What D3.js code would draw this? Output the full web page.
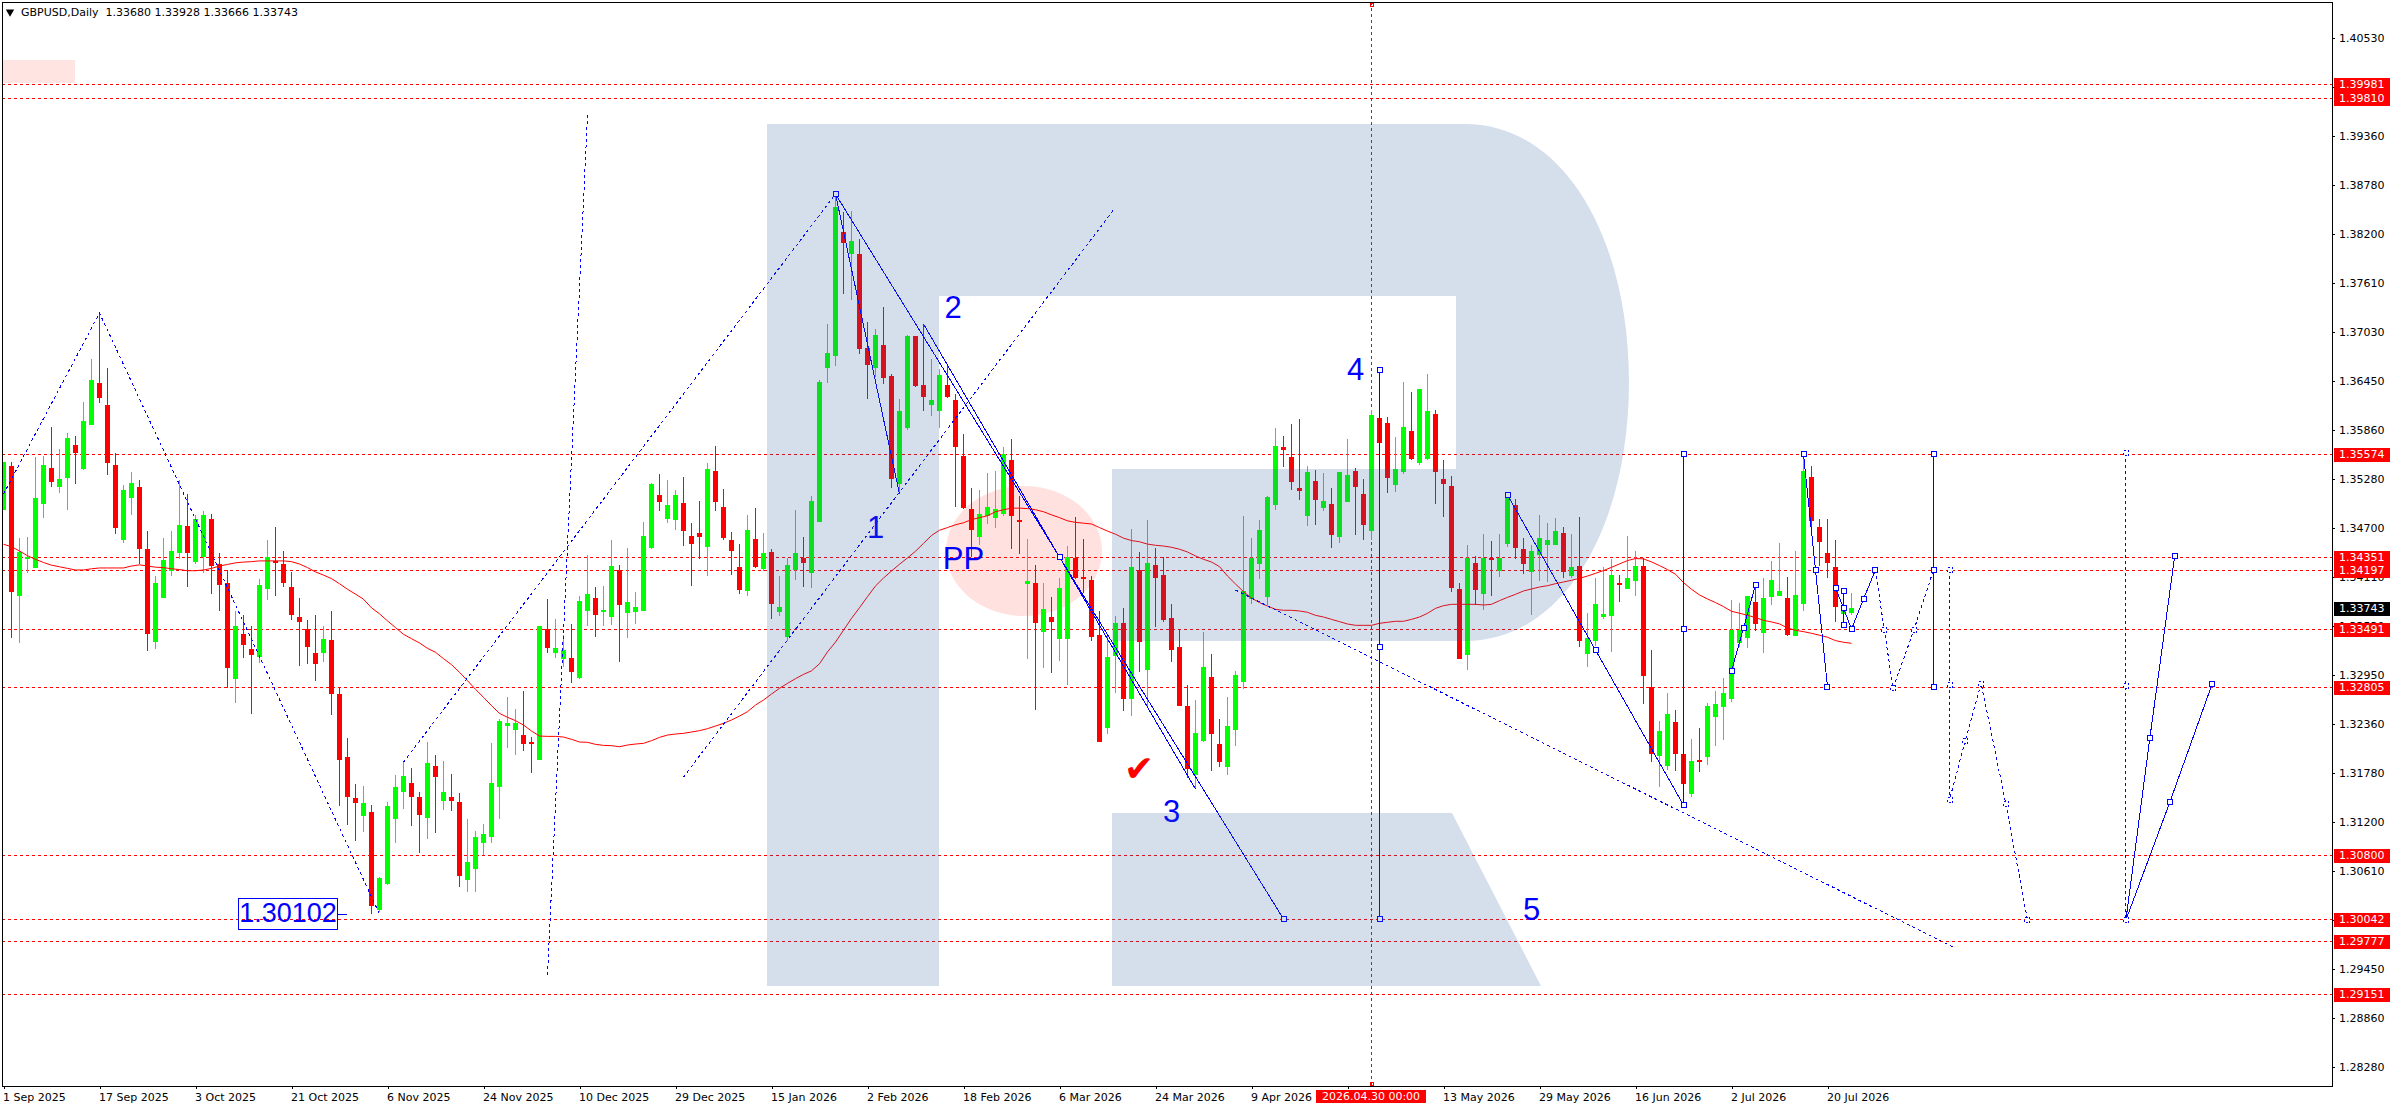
<!DOCTYPE html>
<html>
<head>
<meta charset="utf-8">
<title>GBPUSD,Daily</title>
<script src="https://cdn.jsdelivr.net/npm/d3@7"></script>
<style>
html, body { margin: 0; padding: 0; background: #fff; }
svg { display: block; }
text { font-family: "DejaVu Sans", sans-serif; font-size: 11px; }
</style>
</head>
<body>
<div id="chart"></div>
<script>
var width = 2396;
var height = 1110;

// daily candles
var opens = [1.34912,1.35438,1.33887,1.34333,1.34216,1.34977,1.35414,1.35189,1.35297,1.35687,
	1.354,1.35927,1.36425,1.36162,1.35452,1.34559,1.35057,1.35189,1.34451,1.33337,
	1.33859,1.34188,1.34395,1.34724,1.34286,1.34352,1.34799,1.34263,1.34037,1.32895,
	1.3344,1.33252,1.33158,1.33967,1.34301,1.34263,1.3399,1.33633,1.33497,1.33205,
	1.33205,1.33361,1.32717,1.31969,1.31481,1.31264,1.31316,1.30146,1.30456,1.31232,
	1.31553,1.3166,1.31494,1.31244,1.31863,1.31446,1.31494,1.31434,1.30505,1.30636,
	1.30946,1.31017,1.31613,1.32339,1.32292,1.32232,1.32149,1.31934,1.33495,1.33209,
	1.33137,1.33149,1.32911,1.33709,1.33864,1.33697,1.33638,1.34197,1.33685,1.33697,
	1.33709,1.34459,1.35091,1.34805,1.34793,1.34995,1.34602,1.34638,1.34471,1.35376,
	1.34948,1.34555,1.34233,1.33947,1.34567,1.34209,1.34412,1.33697,1.33399,1.34197,
	1.34336,1.34162,1.34773,1.36597,1.36742,1.38223,1.37955,1.3796,1.36841,1.36606,
	1.36879,1.36512,1.35224,1.35892,1.36987,1.36404,1.36164,1.36084,1.36404,1.36225,
	1.35558,1.34919,1.34594,1.34843,1.34811,1.34858,1.35511,1.34787,1.34026,1.3404,
	1.33462,1.33636,1.33377,1.33377,1.34345,1.34115,1.34073,1.33419,1.3232,1.3317,
	1.3356,1.32658,1.342,1.33011,1.34251,1.34134,1.33621,1.33278,1.32573,1.31756,
	1.3216,1.32923,1.32125,1.31851,1.32291,1.32863,1.33852,1.34268,1.33875,1.34971,
	1.35662,1.35543,1.35174,1.3484,1.35257,1.34935,1.34983,1.3459,1.35007,1.35376,
	1.35102,1.34661,1.36007,1.35948,1.35209,1.35364,1.35852,1.35471,1.35519,1.36055,
	1.35281,1.35197,1.33971,1.33185,1.3428,1.33911,1.34344,1.34185,1.34507,1.34971,
	1.34447,1.34173,1.34376,1.34495,1.34495,1.34638,1.34125,1.34245,1.33196,1.33351,
	1.33638,1.3365,1.34043,1.33971,1.34067,1.34245,1.32804,1.31982,1.31863,1.32387,
	1.32006,1.3153,1.31935,1.31971,1.32447,1.32566,1.32661,1.33328,1.33388,1.33817,
	1.33447,1.33876,1.33888,1.33864,1.33412,1.33793,1.35305,1.3471,1.344,1.34233,1.33674,1.3368];

var highs = [1.35485,1.35485,1.34583,1.34592,1.35541,1.35555,1.35903,1.3564,1.35833,1.3579,
	1.36199,1.36707,1.37247,1.36604,1.35588,1.35203,1.35367,1.35273,1.34662,1.34131,
	1.34573,1.34662,1.35273,1.35104,1.3485,1.34902,1.34869,1.34395,1.34197,1.33713,
	1.33666,1.33525,1.34084,1.3455,1.34714,1.34427,1.34169,1.33868,1.33596,1.33657,
	1.33534,1.33704,1.32806,1.32195,1.31645,1.31622,1.31396,1.30541,1.31434,1.31753,
	1.31915,1.31835,1.31553,1.32149,1.31994,1.31922,1.31768,1.31541,1.31232,1.31089,
	1.31172,1.32137,1.32423,1.32685,1.32542,1.32756,1.32208,1.3353,1.33852,1.33614,
	1.33423,1.33554,1.33888,1.34376,1.33995,1.34007,1.34555,1.34257,1.34459,1.33935,
	1.34769,1.35233,1.35341,1.35269,1.3515,1.35305,1.34757,1.35019,1.35472,1.35674,
	1.35162,1.3465,1.34507,1.34852,1.34936,1.34638,1.34447,1.34126,1.3434,1.34912,
	1.34594,1.35078,1.36456,1.37128,1.38674,1.38462,1.38472,1.38138,1.37151,1.37067,
	1.3733,1.36535,1.3623,1.36996,1.36987,1.37123,1.36714,1.36592,1.3662,1.36286,
	1.35821,1.35168,1.35154,1.35351,1.3537,1.35666,1.35751,1.35078,1.34561,1.34251,
	1.3404,1.33871,1.34096,1.34477,1.34829,1.34571,1.3412,1.33706,1.33419,1.33645,
	1.33748,1.34679,1.34416,1.34792,1.34453,1.34355,1.33786,1.33485,1.32822,1.32649,
	1.33458,1.33196,1.32422,1.32684,1.32994,1.3484,1.34578,1.34792,1.35078,1.35888,
	1.35793,1.35936,1.35995,1.35436,1.35388,1.35352,1.35174,1.35364,1.35757,1.35412,
	1.35281,1.36102,1.36007,1.36019,1.35781,1.36436,1.36317,1.36353,1.36531,1.36102,
	1.35507,1.35316,1.34042,1.34495,1.34364,1.34626,1.34542,1.34626,1.3509,1.35043,
	1.34578,1.34495,1.34852,1.34757,1.34816,1.34709,1.34626,1.34828,1.33685,1.34102,
	1.34233,1.34329,1.34138,1.34603,1.34424,1.34341,1.33245,1.32399,1.32733,1.3253,
	1.32006,1.32185,1.32316,1.32614,1.32757,1.32911,1.3384,1.33805,1.33888,1.34031,
	1.34102,1.34305,1.34519,1.34114,1.34424,1.35567,1.35436,1.34805,1.34805,1.34555,1.33959,1.33928];

var lows = [1.34912,1.33393,1.33323,1.3416,1.34216,1.34813,1.35179,1.35118,1.34916,1.35226,
	1.35386,1.35927,1.3619,1.3533,1.3462,1.34521,1.34855,1.34263,1.33229,1.33252,
	1.33859,1.34131,1.34333,1.3399,1.34272,1.3416,1.33915,1.33704,1.32787,1.32609,
	1.33144,1.32477,1.33088,1.33845,1.33892,1.3399,1.33596,1.3305,1.33074,1.32872,
	1.33097,1.32468,1.31387,1.31161,1.30968,1.31076,1.30103,1.30127,1.30447,1.30945,
	1.31351,1.31148,1.30827,1.30994,1.31065,1.31339,1.31327,1.30422,1.30362,1.30362,
	1.30803,1.30946,1.31232,1.32077,1.31994,1.32042,1.3178,1.31934,1.33209,1.33149,
	1.33042,1.32851,1.32899,1.3353,1.33399,1.3353,1.33542,1.33102,1.33387,1.33554,
	1.33709,1.34447,1.349,1.34757,1.34674,1.34483,1.34007,1.34328,1.34126,1.349,
	1.34555,1.34138,1.33912,1.33888,1.34222,1.34185,1.33614,1.33649,1.33352,1.34078,
	1.33997,1.33988,1.34773,1.36418,1.36629,1.37485,1.37414,1.3677,1.3623,1.36493,
	1.36413,1.35168,1.35102,1.35859,1.3638,1.36084,1.36033,1.35892,1.36244,1.34947,
	1.34923,1.3435,1.34491,1.3474,1.34693,1.34843,1.34444,1.34388,1.33133,1.32531,
	1.33034,1.32968,1.33109,1.32832,1.34091,1.33927,1.33349,1.3215,1.32249,1.32728,
	1.32517,1.32461,1.32978,1.32564,1.33513,1.33574,1.331,1.32573,1.31718,1.31601,
	1.32148,1.31803,1.31851,1.31755,1.32101,1.3278,1.33792,1.3409,1.3378,1.34911,
	1.35424,1.3515,1.35031,1.34721,1.34733,1.349,1.34459,1.34518,1.35007,1.34614,
	1.34554,1.34554,1.35666,1.35114,1.35126,1.3534,1.35507,1.35447,1.35507,1.34983,
	1.34828,1.33935,1.33137,1.33006,1.3378,1.3372,1.33887,1.34114,1.34471,1.34328,
	1.34149,1.33661,1.34066,1.34054,1.34495,1.34102,1.34102,1.3328,1.33042,1.33292,
	1.33614,1.33221,1.33817,1.33971,1.33888,1.32602,1.31911,1.31613,1.31816,1.31804,
	1.31649,1.31494,1.31792,1.31875,1.32102,1.32173,1.32626,1.33281,1.33269,1.33471,
	1.33209,1.33781,1.33888,1.33412,1.33412,1.33709,1.34698,1.34245,1.34102,1.33578,1.33642,1.33666];

var closes = [1.35485,1.33934,1.34413,1.34357,1.35057,1.35452,1.3525,1.35283,1.35772,1.35593,
	1.35974,1.36463,1.36246,1.35476,1.34691,1.35151,1.35236,1.34442,1.3344,1.34037,
	1.3431,1.34418,1.34738,1.34404,1.34799,1.34855,1.34239,1.34023,1.33027,1.33525,
	1.33299,1.33182,1.34014,1.34357,1.34286,1.34037,1.33657,1.33572,1.33276,1.33083,
	1.3337,1.32717,1.31932,1.31495,1.31419,1.31419,1.30197,1.30531,1.31387,1.31612,
	1.31744,1.31494,1.31279,1.31899,1.31732,1.31553,1.31446,1.30553,1.3072,1.31017,
	1.31053,1.3166,1.32399,1.32375,1.32375,1.32125,1.32125,1.3353,1.33268,1.33268,
	1.33244,1.32982,1.33828,1.33912,1.33661,1.33721,1.34245,1.3378,1.33816,1.33757,
	1.34602,1.35222,1.35007,1.34971,1.35091,1.34662,1.34507,1.3459,1.354,1.35007,
	1.34578,1.34424,1.33959,1.34674,1.34233,1.344,1.33792,1.33757,1.34257,1.344,
	1.34275,1.35022,1.36437,1.36785,1.38524,1.38091,1.38115,1.36832,1.36639,1.36996,
	1.36488,1.35285,1.36094,1.36987,1.3639,1.36258,1.36225,1.36521,1.36258,1.35657,
	1.34937,1.3467,1.34858,1.34942,1.34928,1.35581,1.34834,1.34764,1.34063,1.3356,
	1.3373,1.33574,1.33988,1.3435,1.34106,1.34087,1.33405,1.3215,1.33156,1.3356,
	1.32658,1.34228,1.33335,1.34275,1.34106,1.33598,1.33241,1.32573,1.31826,1.32254,
	1.33042,1.32244,1.3191,1.32339,1.32946,1.33947,1.3434,1.34673,1.35066,1.35674,
	1.35626,1.35245,1.35138,1.35364,1.35031,1.35019,1.34614,1.35364,1.35328,1.35185,
	1.34733,1.36043,1.35709,1.35293,1.354,1.359,1.35519,1.36353,1.36091,1.35364,
	1.35221,1.33983,1.33137,1.3434,1.33959,1.3434,1.34316,1.3434,1.35066,1.34459,
	1.34268,1.34423,1.34578,1.34554,1.34661,1.34173,1.34233,1.33351,1.33387,1.33792,
	1.33674,1.34138,1.34019,1.34102,1.34245,1.32935,1.32006,1.3228,1.32483,1.32006,
	1.31649,1.31923,1.31911,1.32578,1.32602,1.32733,1.33483,1.33483,1.33888,1.33555,
	1.33864,1.34079,1.33948,1.33424,1.339,1.35377,1.34781,1.34531,1.34281,1.33757,1.33721,1.33743];

// moving average per bar
var maValues = [1.34503,1.34474,1.34423,1.34366,1.34324,1.34286,1.34254,1.34235,1.34216,1.34197,
	1.34197,1.34211,1.34221,1.34221,1.34221,1.34221,1.34244,1.34258,1.34244,1.3423,
	1.34225,1.34211,1.34202,1.34188,1.34188,1.34197,1.34216,1.34244,1.34263,1.34282,
	1.34291,1.34296,1.34305,1.34305,1.34305,1.34305,1.34296,1.34268,1.34225,1.34174,
	1.34136,1.34094,1.34033,1.33967,1.3391,1.33849,1.33746,1.33675,1.33591,1.33511,
	1.33431,1.33379,1.33328,1.33264,1.33217,1.33141,1.3307,1.32979,1.32879,1.32776,
	1.32681,1.32582,1.3249,1.32443,1.32403,1.32351,1.3228,1.3222,1.32216,1.32216,
	1.32208,1.32181,1.32149,1.32145,1.32121,1.32109,1.32105,1.32093,1.32113,1.32125,
	1.32133,1.32165,1.32204,1.32232,1.32244,1.32252,1.32268,1.32284,1.32308,1.32339,
	1.32371,1.32411,1.32458,1.3251,1.32589,1.32649,1.3272,1.32788,1.32847,1.32903,
	1.32954,1.32996,1.33081,1.33222,1.33339,1.3348,1.33621,1.33748,1.3388,1.34007,
	1.34101,1.34185,1.34265,1.34341,1.3442,1.34514,1.34608,1.3467,1.34702,1.34735,
	1.34759,1.34796,1.3482,1.34843,1.3489,1.34914,1.34933,1.34933,1.34928,1.34914,
	1.3489,1.34853,1.3482,1.34782,1.34764,1.34754,1.34745,1.34702,1.3466,1.34623,
	1.34576,1.34547,1.34533,1.34505,1.34491,1.34482,1.34467,1.34444,1.34411,1.34364,
	1.34324,1.34292,1.34237,1.34125,1.3403,1.33939,1.33863,1.33808,1.33768,1.33728,
	1.33717,1.33717,1.33709,1.33693,1.33657,1.33637,1.33609,1.33582,1.33554,1.33538,
	1.33538,1.33538,1.33562,1.33574,1.33586,1.33586,1.33609,1.33637,1.33681,1.3374,
	1.33772,1.33788,1.33788,1.33788,1.33788,1.3378,1.33788,1.33832,1.33871,1.33907,
	1.33947,1.33971,1.33994,1.3401,1.34034,1.34054,1.34074,1.34098,1.34125,1.34157,
	1.3419,1.34229,1.34269,1.34309,1.34333,1.34329,1.34293,1.34249,1.34202,1.34146,
	1.34047,1.33967,1.339,1.33852,1.33809,1.33761,1.33705,1.33682,1.33658,1.3363,
	1.33598,1.33578,1.33555,1.33507,1.33479,1.33463,1.33443,1.3342,1.33396,1.33356,1.33336,1.33324];

var priceTicks = [1.40530,1.39950,1.39360,1.38780,1.38200,1.37610,1.37030,1.36450,1.35860,1.35280,1.34700,
	1.34110,1.33530,1.32950,1.32360,1.31780,1.31200,1.30610,1.30030,1.29450,1.28860,1.28280];
var dateLabels = ["1 Sep 2025","17 Sep 2025","3 Oct 2025","21 Oct 2025","6 Nov 2025","24 Nov 2025","10 Dec 2025",
	"29 Dec 2025","15 Jan 2026","2 Feb 2026","18 Feb 2026","6 Mar 2026","24 Mar 2026","9 Apr 2026","27 Apr 2026",
	"13 May 2026","29 May 2026","16 Jun 2026","2 Jul 2026","20 Jul 2026"];
var dateBars = [0,12,24,36,48,60,72,84,96,108,120,132,144,156,168,180,192,204,216,228];
var redLevels = [1.39981,1.39810,1.35574,1.34351,1.34197,1.33491,1.32805,1.30800,1.30042,1.29777,1.29151];
var lastPrice = 1.33743;
var cursorBar = 171;

// analysis lines as [bar, price], bars past the last candle are the forecast
var dashedPaths = [
	[[0,1.35101],[12,1.37256],[47,1.30102]],
	[[50,1.3191],[104,1.38672]],
	[[73,1.39613],[68,1.29363]],
	[[85,1.31732],[138.7,1.38476]],
	[[154,1.33958],[243.7,1.29708]],
	[[234,1.34196],[235.1,1.33482],[236.2,1.32791],[238.8,1.33482],[241.2,1.34184]],
	[[243.25,1.34202],[243.25,1.32833],[243.25,1.31458],[245.2,1.3216],[247.2,1.32845],[250.3,1.3141],[253,1.30029]],
	[[265.3,1.35594],[265.3,1.32815],[265.3,1.30029]]
];
var solidPaths = [
	[[104,1.38672],[112,1.35101]],
	[[104,1.38672],[132,1.34351],[149,1.31589]],
	[[115,1.37125],[132,1.34351],[160,1.30042]],
	[[172,1.36577],[172,1.33279],[172,1.30042]],
	[[188,1.35089],[199,1.33244],[210,1.31398]],
	[[210,1.35574],[210,1.33491],[210,1.31398]],
	[[216,1.32994],[217.5,1.33506],[219,1.34018]],
	[[225,1.35574],[226.5,1.34197],[228,1.32805]],
	[[229,1.33982],[230,1.33744],[231,1.33491],[232.5,1.33851],[234,1.34197]],
	[[230,1.33946],[230,1.33744],[230,1.33541]],
	[[241.25,1.35574],[241.25,1.34197],[241.25,1.32805]],
	[[265.3,1.30029],[268.3,1.32201],[271.4,1.34363]],
	[[265.3,1.30029],[270.8,1.31434],[276.1,1.32845]]
];
var solidMarkers = [[104,1.38672],[132,1.34351],[160,1.30042],[172,1.36577],[172,1.33279],[172,1.30042],
	[188,1.35089],[199,1.33244],[210,1.31398],[210,1.35574],[210,1.33491],[216,1.32994],[217.5,1.33506],[219,1.34018],
	[225,1.35574],[226.5,1.34197],[228,1.32805],[229,1.33982],[230,1.33946],[230,1.33744],[230,1.33541],[231,1.33491],
	[232.5,1.33851],[234,1.34197],[241.25,1.35574],[241.25,1.34197],[241.25,1.32805],
	[268.3,1.32201],[271.4,1.34363],[270.8,1.31434],[276.1,1.32845]];
var dashedMarkers = [[235.1,1.33482],[236.2,1.32791],[238.8,1.33482],[243.25,1.34202],[243.25,1.32833],[243.25,1.31458],
	[245.2,1.3216],[247.2,1.32845],[250.3,1.3141],[253,1.30029],[265.3,1.35594],[265.3,1.32815],[265.3,1.30029]];
var waveLabels = [["1",109,1.3468],["2",118.7,1.3729],["3",146,1.3129],["4",169,1.3656],["5",191,1.3013],["PP",120,1.3431]];

var plotLeft = 2, plotTop = 2, plotRight = 2332, plotBottom = 1086;

var x = d3.scaleLinear().domain([0, 100]).range([3.5, 803.5]);
var y = d3.scaleLinear().domain([1.4053, 1.2828]).range([38, 1067]);

var svg = d3.select("#chart").append("svg")
	.attr("width", width)
	.attr("height", height);

svg.append("defs").append("clipPath").attr("id", "plot")
	.append("rect")
	.attr("x", plotLeft).attr("y", plotTop)
	.attr("width", plotRight - plotLeft).attr("height", plotBottom - plotTop);

var plot = svg.append("g").attr("clip-path", "url(#plot)");

// pale boxes behind the candles
plot.append("rect")
	.attr("x", 2).attr("y", 60).attr("width", 73).attr("height", 23)
	.attr("fill", "#ffe4e1");
plot.append("ellipse")
	.attr("cx", 1024).attr("cy", 551).attr("rx", 78).attr("ry", 65)
	.attr("fill", "#ffe2df");

// red levels
plot.selectAll(".level").data(redLevels).enter().append("line")
	.attr("class", "level")
	.attr("x1", plotLeft).attr("x2", plotRight)
	.attr("y1", function(d) { return Math.round(y(d)) + 0.5; })
	.attr("y2", function(d) { return Math.round(y(d)) + 0.5; })
	.attr("stroke", "#f00")
	.attr("stroke-dasharray", "3 3")
	.attr("shape-rendering", "crispEdges");

plot.append("line")
	.attr("x1", x(cursorBar)).attr("x2", x(cursorBar))
	.attr("y1", plotTop).attr("y2", plotBottom)
	.attr("stroke", "#f00")
	.attr("stroke-dasharray", "3 3")
	.attr("shape-rendering", "crispEdges");
plot.selectAll(".cursorEnd").data([plotTop + 1, plotBottom - 4]).enter().append("rect")
	.attr("class", "cursorEnd")
	.attr("x", x(cursorBar) - 1.5).attr("y", function(d) { return d; })
	.attr("width", 3).attr("height", 3)
	.attr("fill", "none").attr("stroke", "#f00")
	.attr("shape-rendering", "crispEdges");

// candles
var bars = d3.range(opens.length);
var candleColor = function(i) { return closes[i] >= opens[i] ? "#00ff00" : "#ff0000"; };

plot.selectAll(".wick").data(bars).enter().append("line")
	.attr("class", "wick")
	.attr("x1", function(i) { return x(i); })
	.attr("x2", function(i) { return x(i); })
	.attr("y1", function(i) { return y(highs[i]); })
	.attr("y2", function(i) { return y(lows[i]); })
	.attr("stroke", candleColor)
	.attr("shape-rendering", "crispEdges");

plot.selectAll(".body").data(bars).enter().append("rect")
	.attr("class", "body")
	.attr("x", function(i) { return x(i) - 2.5; })
	.attr("width", 5)
	.attr("y", function(i) { return y(Math.max(opens[i], closes[i])); })
	.attr("height", function(i) { return Math.max(2, Math.abs(y(opens[i]) - y(closes[i]))); })
	.attr("fill", candleColor)
	.attr("shape-rendering", "crispEdges");

// moving average
var maLine = d3.line()
	.x(function(d, i) { return x(i); })
	.y(function(d) { return y(d); });
plot.append("path")
	.attr("d", maLine(maValues))
	.attr("fill", "none")
	.attr("stroke", "#f00")
	.attr("stroke-width", 1);

// big R watermark, laid over the candles so they tint through it
svg.append("path")
	.attr("d", "M767,124 H1465 C1565,124 1629,240 1629,382 C1629,525 1565,641 1465,641 H1112 V469 H1456 V296 H939 V986 H767 Z")
	.attr("fill", "#2d5f9e")
	.attr("fill-opacity", 0.2);
svg.append("path")
	.attr("d", "M1112,813 H1452 L1541,986 H1112 Z")
	.attr("fill", "#2d5f9e")
	.attr("fill-opacity", 0.2);

// analysis lines
var pathLine = d3.line()
	.x(function(d) { return x(d[0]); })
	.y(function(d) { return y(d[1]); });

plot.selectAll(".dashed").data(dashedPaths).enter().append("path")
	.attr("class", "dashed")
	.attr("d", pathLine)
	.attr("fill", "none")
	.attr("stroke", "#00f")
	.attr("stroke-dasharray", "3 3")
	.attr("shape-rendering", "crispEdges");

plot.selectAll(".solid").data(solidPaths).enter().append("path")
	.attr("class", "solid")
	.attr("d", pathLine)
	.attr("fill", "none")
	.attr("stroke", "#00f")
	.attr("shape-rendering", "crispEdges");

plot.selectAll(".marker").data(solidMarkers).enter().append("rect")
	.attr("class", "marker")
	.attr("x", function(d) { return Math.round(x(d[0])) - 2.5; })
	.attr("y", function(d) { return Math.round(y(d[1])) - 2.5; })
	.attr("width", 5).attr("height", 5)
	.attr("fill", "#fff").attr("stroke", "#00f")
	.attr("shape-rendering", "crispEdges");

plot.selectAll(".markerDashed").data(dashedMarkers).enter().append("rect")
	.attr("class", "markerDashed")
	.attr("x", function(d) { return Math.round(x(d[0])) - 2.5; })
	.attr("y", function(d) { return Math.round(y(d[1])) - 2.5; })
	.attr("width", 5).attr("height", 5)
	.attr("fill", "#fff").attr("stroke", "#00f")
	.attr("stroke-dasharray", "2 2")
	.attr("shape-rendering", "crispEdges");

// wave numbers
plot.selectAll(".wave").data(waveLabels).enter().append("text")
	.attr("class", "wave")
	.attr("x", function(d) { return x(d[1]); })
	.attr("y", function(d) { return y(d[2]); })
	.attr("text-anchor", "middle")
	.attr("dominant-baseline", "middle")
	.style("font-family", "'Liberation Sans', Arial, sans-serif")
	.style("font-size", "31px")
	.attr("fill", "#00f")
	.text(function(d) { return d[0]; });

plot.append("text")
	.attr("x", 1139).attr("y", 771)
	.attr("text-anchor", "middle").attr("dominant-baseline", "middle")
	.attr("fill", "#f00")
	.style("font-size", "36px")
	.text("\u2714");

// low price box
var lowLabel = plot.append("g");
lowLabel.append("rect")
	.attr("x", 238.5).attr("y", 898.5).attr("width", 99).attr("height", 31)
	.attr("fill", "none").attr("stroke", "#00f")
	.attr("shape-rendering", "crispEdges");
lowLabel.append("text")
	.attr("x", 288).attr("y", 915)
	.attr("text-anchor", "middle").attr("dominant-baseline", "middle")
	.style("font-family", "'Liberation Sans', Arial, sans-serif")
	.style("font-size", "27px")
	.attr("fill", "#00f")
	.text("1.30102");
lowLabel.append("line")
	.attr("x1", 338).attr("x2", 347)
	.attr("y1", Math.round(y(1.30102)) + 0.5).attr("y2", Math.round(y(1.30102)) + 0.5)
	.attr("stroke", "#00f")
	.attr("shape-rendering", "crispEdges");

// frame
svg.append("rect")
	.attr("x", plotLeft + 0.5).attr("y", plotTop + 0.5)
	.attr("width", plotRight - plotLeft).attr("height", plotBottom - plotTop)
	.attr("fill", "none").attr("stroke", "#000")
	.attr("shape-rendering", "crispEdges");

// axes
var priceAxis = d3.axisRight(y)
	.tickValues(priceTicks)
	.tickFormat(d3.format(".5f"))
	.tickSize(3)
	.tickPadding(4);
var priceG = svg.append("g").attr("transform", "translate(" + plotRight + ",0)").call(priceAxis);
priceG.select(".domain").remove();
priceG.selectAll("text").style("font-size", "11px").attr("fill", "#000");
priceG.selectAll("line").attr("stroke", "#000").attr("shape-rendering", "crispEdges");

var dateAxis = d3.axisBottom(x)
	.tickValues(dateBars)
	.tickFormat(function(d, i) { return dateLabels[i]; })
	.tickSize(3)
	.tickPadding(4);
var dateG = svg.append("g").attr("transform", "translate(0," + plotBottom + ")").call(dateAxis);
dateG.select(".domain").remove();
dateG.selectAll("text").style("font-size", "11px").attr("fill", "#000").attr("text-anchor", "start").attr("dx", -1);
dateG.selectAll("line").attr("stroke", "#000").attr("shape-rendering", "crispEdges");

// price tags on the right edge
var tag = svg.selectAll(".tag").data(redLevels.map(function(d) { return { price: d, fill: "#f00" }; })
		.concat([{ price: lastPrice, fill: "#000" }]))
	.enter().append("g")
	.attr("class", "tag")
	.attr("transform", function(d) { return "translate(0," + Math.round(y(d.price)) + ")"; });
tag.append("rect")
	.attr("x", 2334).attr("y", -6).attr("width", 56).attr("height", 14)
	.attr("fill", function(d) { return d.fill; });
tag.append("text")
	.attr("x", 2339).attr("y", 1)
	.attr("dominant-baseline", "middle")
	.attr("fill", "#fff")
	.text(function(d) { return d3.format(".5f")(d.price); });

// cursor time tag
svg.append("rect")
	.attr("x", 1316).attr("y", 1090).attr("width", 110).attr("height", 13)
	.attr("fill", "#f00");
svg.append("text")
	.attr("x", 1371).attr("y", 1097)
	.attr("text-anchor", "middle").attr("dominant-baseline", "middle")
	.attr("fill", "#fff")
	.text("2026.04.30 00:00");

// header
svg.append("path")
	.attr("d", d3.symbol().type(d3.symbolTriangle).size(30)())
	.attr("transform", "translate(10,12) rotate(180)")
	.attr("fill", "#000");
svg.append("text")
	.attr("x", 21).attr("y", 13)
	.attr("dominant-baseline", "middle")
	.attr("fill", "#000")
	.attr("xml:space", "preserve")
	.text("GBPUSD,Daily  1.33680 1.33928 1.33666 1.33743");
</script>
</body>
</html>
